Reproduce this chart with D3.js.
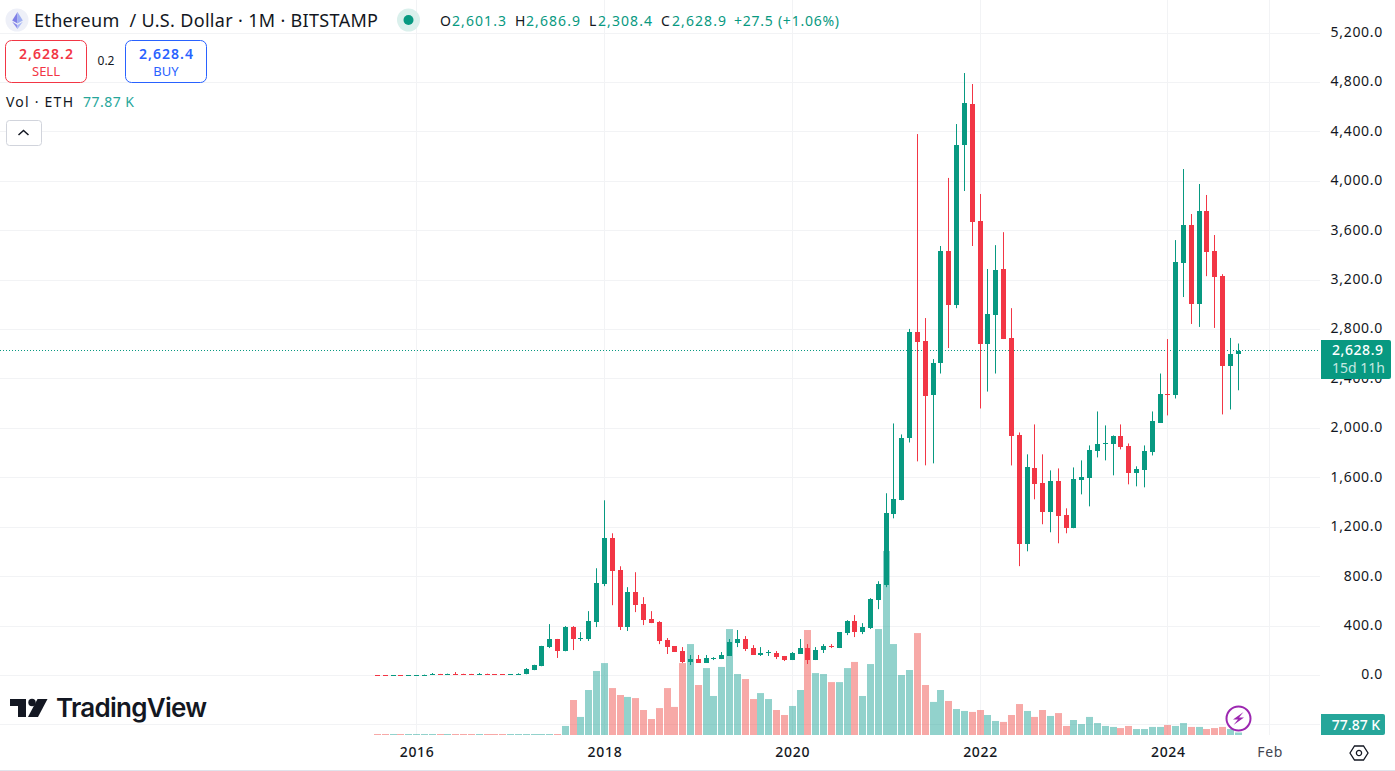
<!DOCTYPE html>
<html><head><meta charset="utf-8">
<script src="https://cdn.jsdelivr.net/npm/d3@7"></script>
<style>
html,body{margin:0;padding:0;background:#fff;overflow:hidden}
svg{display:block}
text{font-family:"Noto Sans",sans-serif;fill:#131722}
</style></head><body><svg id="c" width="1395" height="771"></svg>
<script>
// First candle is August 2015, one candle per month
const firstYear = 2015, firstMonth = 7;
const opens = [2.8,1.35,0.9,1.0,0.87,0.93,2.2,6.3,11.4,8.8,13.9,12.1,11.5,11.2,13.2,10.6,9.1,8.0,10.7,
 12,44,77,230,295,198,392,295,295,432,739,1111,852,392,675,578,456,432,287,
 238,198,109,133,101,133,133,158,263,295,222,166,182,182,158,125,174,222,125,206,238,222,
 343,440,351,384,610,731,1305,1418,1919,2780,2708,2266,2529,3436,2999,4293,4625,3678,2682,2917,3290,2731,1943,
 1062,1676,1555,1321,1571,1297,1192,1580,1596,1814,1870,1870,1935,1854,1636,1660,1806,2048,2282,2274,3339,3646,3007,3759,3436,3232,2501,2601.3];
const highs = [3,1.6,1.3,1.2,1.1,2.3,7,20,13,15,28,14,13,20,15,11.5,10,11.5,18,
 60,87,240,416,296,400,400,351,521,868,1418,1151,884,715,836,634,521,440,303,
 238,230,166,166,166,149,190,295,368,319,246,230,206,198,158,190,295,254,230,254,254,351,
 448,489,424,626,763,1475,2040,1951,2805,4382,2893,2561,3476,4027,4463,4876,4787,3897,3290,3483,3588,2973,1967,
 1790,2032,1790,1660,1676,1353,1684,1741,1862,2137,2024,1943,2032,1878,1693,1862,2137,2444,2723,3524,4099,3735,3978,3889,3565,3248,2732,2686.9];
const lows = [0.6,0.7,0.5,0.8,0.8,0.9,2.1,6,7,8,9,10,10.5,10.9,10,8.5,6.5,7.5,10,
 10,43,75,222,142,196,206,279,279,392,723,569,368,360,513,408,424,254,174,
 190,101,85,101,101,125,133,158,230,198,166,158,158,133,117,125,174,93,125,182,222,222,
 327,311,335,376,537,715,1272,1418,1886,1733,1701,1717,2444,2650,2973,3921,3476,2161,2298,2444,2723,1700,885,
 1005,1426,1224,1159,1070,1151,1192,1466,1369,1765,1741,1620,1830,1547,1531,1523,1781,2048,2105,2242,3063,2845,2821,3232,2813,2113,2153,2308.4];
const closes = [1.35,0.9,1.0,0.87,0.93,2.2,6.3,11.4,8.8,13.9,12.1,11.5,11.2,13.2,10.6,9.1,8.0,10.7,15.7,
 50,83,238,295,198,392,295,303,440,747,1111,844,392,675,570,448,424,279,230,
 190,109,133,101,141,141,166,271,295,214,166,182,190,149,125,182,222,125,206,238,230,351,
 440,351,392,618,739,1313,1426,1919,2780,2699,2266,2529,3436,2999,4293,4633,3670,2682,2925,3282,2723,1935,1062,
 1684,1547,1321,1571,1289,1192,1588,1604,1822,1870,1878,1935,1846,1636,1668,1814,2056,2282,2274,3347,3646,3007,3759,3428,3225,2501,2601,2628.9];
const volumes = [31,31,31,31,31,31,31,31,31,31,31,31,31,31,31,31,31,31,31,31,31,31,31,31,
 280,1085,560,1395,1985,2230,1455,1240,1180,1145,775,495,835,1455,870,2230,2820,1550,2075,1210,2110,3285,1890,1735,1115,1300,1115,775,620,900,1395,3255,1920,1890,1640,1640,2075,2265,1210,2200,3285,5705,2820,1860,2015,3160,1550,1025,1395,1055,805,745,715,775,620,435,405,620,960,745,560,775,590,680,280,465,340,560,370,280,250,215,280,185,185,250,250,310,280,370,250,250,185,215,250,185,77.87];
const volumeUp = [0,0,1,0,1,1,1,1,0,1,0,0,0,1,0,0,0,1,1,1,1,1,1,0,1,0,1,1,1,1,0,0,1,0,0,0,0,0,0,0,1,0,1,1,1,1,1,0,0,1,1,0,0,1,1,0,1,1,0,1,1,0,1,1,1,1,1,1,1,0,0,1,1,0,1,1,0,0,1,1,0,0,0,1,0,0,1,0,0,1,1,1,1,1,1,0,0,1,1,1,1,0,1,1,0,1,0,0,0,1,1];
const priceTicks = [0,400,800,1200,1600,2000,2400,2800,3200,3600,4000,4400,4800,5200];
const gridPrices = [-400].concat(priceTicks);
const timeLabels = [{t:"2016",i:5,bold:true},{t:"2018",i:29,bold:true},{t:"2020",i:53,bold:true},{t:"2022",i:77,bold:true},{t:"2024",i:101,bold:true},{t:"Feb",i:114,bold:false}];
const lastPrice = 2628.9, lastVolume = "77.87 K";
const ohlcLegend = [["O","2,601.3",440,452],["H","2,686.9",515,526],["L","2,308.4",589,598],["C","2,628.9",661,672]];

const UP="#089981", DOWN="#f23645", GRID="#f2f3f5";
const svg=d3.select("#c");
const x=d3.scaleLinear().domain([0,110]).range([377.5,1238.3]);
const y=d3.scaleLinear().domain([0,5200]).range([675.5,33]);
const v=d3.scaleLinear().domain([0,5705]).range([735,551]);
const px=i=>Math.floor(x(i));
const snap=p=>Math.floor(y(p))+.5;

// grid
const ag=svg.append("g").attr("class","grid");
ag.selectAll("line.h").data(gridPrices).join("line").attr("class","h")
  .attr("x1",0).attr("x2",1320).attr("y1",snap).attr("y2",snap)
  .attr("stroke",GRID);
ag.selectAll("line.v").data(timeLabels).join("line").attr("class","v")
  .attr("x1",d=>px(d.i)+.5).attr("x2",d=>px(d.i)+.5).attr("y1",0).attr("y2",735)
  .attr("stroke",GRID);

// volume
const idx=d3.range(opens.length);
svg.append("g").selectAll("rect").data(idx).join("rect")
  .attr("x",i=>px(i)-3).attr("width",7)
  .attr("y",i=>v(volumes[i])).attr("height",i=>735-v(volumes[i]))
  .attr("fill",i=>volumeUp[i]?"rgba(38,166,154,.5)":"rgba(239,83,80,.5)");

// price line
svg.append("line").attr("x1",0).attr("x2",1320).attr("y1",snap(lastPrice)).attr("y2",snap(lastPrice))
  .attr("stroke",UP).attr("stroke-dasharray","1 2");

// candles
const g=svg.append("g");
const col=i=>closes[i]>=opens[i]?UP:DOWN;
g.selectAll("line").data(idx).join("line")
  .attr("x1",i=>px(i)+.5).attr("x2",i=>px(i)+.5)
  .attr("y1",i=>y(highs[i])).attr("y2",i=>y(lows[i])).attr("stroke",col).attr("stroke-width",1);
g.selectAll("rect").data(idx).join("rect")
  .attr("x",i=>px(i)-2).attr("width",5)
  .attr("y",i=>Math.round(Math.min(y(opens[i]),y(closes[i]))))
  .attr("height",i=>Math.max(1,Math.round(Math.abs(y(opens[i])-y(closes[i])))))
  .attr("fill",col);

// axes
const fmt=d3.format(",.1f");
const ay=svg.append("g").attr("transform","translate(1383,-1.5)").call(d3.axisRight(y).tickValues(priceTicks).tickSize(0).tickPadding(0).tickFormat(fmt));
ay.select(".domain").remove();
ay.selectAll("text").attr("text-anchor","end").attr("font-size",14).attr("letter-spacing",0.7).attr("font-family",'"Noto Sans",sans-serif').style("fill","#131722").attr("dy","0.35em");
const ax=svg.append("g").attr("transform","translate(0,747.5)").call(d3.axisBottom(x).tickValues(timeLabels.map(d=>d.i)).tickSize(0).tickPadding(0).tickFormat(i=>timeLabels.find(d=>d.i===i).t));
ax.select(".domain").remove();
ax.selectAll("text").attr("font-size",14).attr("letter-spacing",0.7).attr("font-family",'"Noto Sans",sans-serif').attr("dy","0.71em")
  .attr("font-weight",i=>timeLabels.find(d=>d.i===i).bold?500:400)
  .style("fill",i=>timeLabels.find(d=>d.i===i).bold?"#131722":"#434651");

svg.append("line").attr("x1",0).attr("x2",1395).attr("y1",770.5).attr("y2",770.5).attr("stroke","#e0e3eb");

// last price labels
const lp=svg.append("g");
lp.append("path").attr("d","M1321 340H1389a2 2 0 0 1 2 2V377a2 2 0 0 1 -2 2H1321Z").attr("fill",UP);
lp.append("text").attr("x",1332).attr("y",355).attr("font-size",14).attr("font-weight",500).attr("textLength",51).style("fill","#fff").text(fmt(lastPrice));
lp.append("text").attr("x",1358.5).attr("y",373).attr("text-anchor","middle").attr("font-size",14).style("fill","#c5e8e1").text("15d 11h");
lp.append("path").attr("d","M1321 714H1383a2 2 0 0 1 2 2V733a2 2 0 0 1 -2 2H1321Z").attr("fill","#26a69a");
lp.append("text").attr("x",1356).attr("y",729.5).attr("text-anchor","middle").attr("font-size",14).attr("font-weight",500).style("fill","#fff").text(lastVolume);

// settings hexagon
const s=svg.append("g").attr("transform","translate(1359,753)").attr("fill","none").attr("stroke","#131722").attr("stroke-width",1.3);
s.append("path").attr("d","M-9 0L-4.5 -7H4.5L9 0L4.5 7H-4.5Z");
s.append("circle").attr("r",2.6);

// legend
svg.append("circle").attr("cx",17).attr("cy",20).attr("r",11.5).attr("fill","#eef0f8");
svg.append("path").attr("d","M17.5 12L12.2 20.6L17.5 23.6Z").attr("fill","#7f7fe6");
svg.append("path").attr("d","M17.5 12L22.8 20.6L17.5 23.6Z").attr("fill","#9fb0f2");
svg.append("path").attr("d","M12.2 21.8L17.5 29L17.5 24.9Z").attr("fill","#8a8aea");
svg.append("path").attr("d","M22.8 21.8L17.5 29L17.5 24.9Z").attr("fill","#a9b8f5");
svg.append("text").attr("x",34).attr("y",27).attr("font-size",18).attr("textLength",344).attr("lengthAdjust","spacing").style("white-space","pre").style("fill","#131722").text("Ethereum  / U.S. Dollar · 1M · BITSTAMP");
svg.append("circle").attr("cx",408.5).attr("cy",20).attr("r",11.5).attr("fill","#daf0ec");
svg.append("circle").attr("cx",408.5).attr("cy",20).attr("r",5).attr("fill",UP);
ohlcLegend.forEach(d=>{
  svg.append("text").attr("x",d[2]).attr("y",26).attr("font-size",14).style("fill","#131722").text(d[0]);
  svg.append("text").attr("x",d[3]).attr("y",26).attr("font-size",14).style("fill",UP).attr("textLength",54).text(d[1]);
});
svg.append("text").attr("x",734).attr("y",26).attr("font-size",14).style("fill",UP).attr("textLength",105).text("+27.5 (+1.06%)");

function trade(x0,w,color,price,label){
  svg.append("rect").attr("x",x0+.5).attr("y",40.5).attr("width",w).attr("height",42).attr("rx",6).attr("fill","#fff").attr("stroke",color);
  svg.append("text").attr("x",x0+w/2-26.5).attr("y",59).attr("font-size",14).attr("font-weight",600).attr("textLength",54).style("fill",color).text(price);
  svg.append("text").attr("x",x0+w/2+.5).attr("y",76).attr("text-anchor","middle").attr("font-size",13).style("fill",color).text(label);
}
trade(5,81,DOWN,"2,628.2","SELL");
svg.append("text").attr("x",106).attr("y",65).attr("text-anchor","middle").attr("font-size",12).style("fill","#131722").text("0.2");
trade(125,81,"#2962ff","2,628.4","BUY");
svg.append("text").attr("x",6).attr("y",107).attr("font-size",14).attr("textLength",67).style("fill","#131722").text("Vol · ETH");
svg.append("text").attr("x",83).attr("y",107).attr("font-size",14).style("fill","#26a69a").attr("textLength",51).text(lastVolume);
svg.append("rect").attr("x",6.5).attr("y",120.5).attr("width",35).attr("height",25).attr("rx",3).attr("fill","#fff").attr("stroke","#d1d4dc");
svg.append("path").attr("d","M18.5 135L23.5 130.5L28.5 135").attr("fill","none").attr("stroke","#131722").attr("stroke-width",1.5);

// TradingView logo
const l=svg.append("g").attr("fill","#131722");
l.append("path").attr("d","M10 699H26V717H18V706H10Z");
l.append("circle").attr("cx",32).attr("cy",702.5).attr("r",3.7);
l.append("path").attr("d","M37.5 699H47.5L38 717H28Z");
svg.append("text").attr("x",56).attr("y",717).attr("font-size",26).attr("font-weight",600).attr("textLength",151).attr("lengthAdjust","spacing").style("font-family","Inter,sans-serif").style("fill","#131722").text("TradingView");

// lightning badge
svg.append("circle").attr("cx",1238.5).attr("cy",718.5).attr("r",12).attr("fill","#fff").attr("stroke","#9c27b0").attr("stroke-width",2);
svg.append("path").attr("d","M1243.5 712L1233 719.5H1238L1233.5 725L1244 717.5H1239Z").attr("fill","#9c27b0");
</script></body></html>
